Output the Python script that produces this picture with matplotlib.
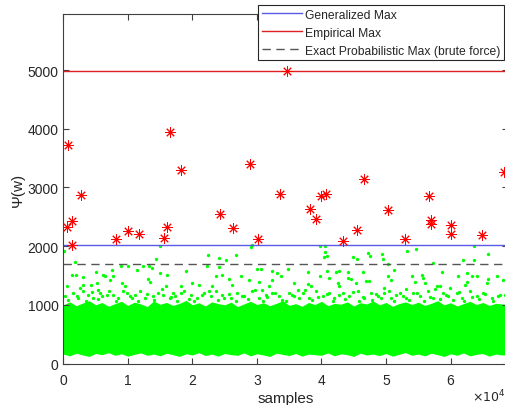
import matplotlib
matplotlib.use("Agg")
import matplotlib.pyplot as plt
from matplotlib.ticker import FuncFormatter

plt.rcParams['font.family'] = ['Liberation Sans', 'DejaVu Sans']

# reference levels
generalized_max = 2020
empirical_max = 4990
exact_max = 1690

# per-run maxima (red asterisks)
star_x = [500, 800, 1300, 1300, 2700, 8200, 10100, 11700, 15600, 16100, 16600,
          18200, 24300, 26300, 28900, 30200, 33600, 34600, 38200, 39200, 40000,
          40700, 43400, 45500, 46600, 50300, 52900, 56600, 56900, 56900, 60000,
          60000, 64900, 68300]
star_y = [2320, 3722, 2433, 2019, 2871, 2121, 2262, 2201, 2143, 2325, 3939,
          3302, 2547, 2303, 3399, 2121, 2888, 4985, 2627, 2456, 2848,
          2888, 2092, 2274, 3138, 2620, 2121, 2859, 2445, 2376, 2359,
          2201, 2189, 3267]

# isolated samples above the dense band
out_x = [109, 15004, 1815, 1919, 1298, 3005, 3108, 4298, 5177, 5074, 6212,
         6470, 7507, 7763, 8953, 10091, 11384, 12418, 13349, 13711, 14383,
         15004, 13194, 13452, 16038, 15935, 9573, 522, 2591, 5436, 7246, 9056,
         29020, 29279, 22452, 24107, 25141, 26693, 22297, 24107, 30055, 30572,
         32382, 33158, 33675, 18935, 23590, 24624, 25658, 27469, 26176, 28762,
         30313, 32382, 31865, 19969, 21004, 18159, 23072, 30830,
         39830, 40554, 40554, 40450, 40864, 44847, 45519, 47174, 47588, 49398,
         49501, 50277, 34761, 37968, 39830, 40864, 41226, 42261, 42778, 44071,
         44071, 44588, 46398, 45364, 46915, 47433, 51312, 50277, 50794, 35692,
         37864, 38382, 42519, 42778, 36313, 49760,
         53277, 54622, 63621, 61966, 63621, 65845, 57208, 53949, 55501, 55656,
         54467, 56018, 58604, 61190, 62483, 63259, 64035, 67138, 68172, 65586,
         65845, 57828, 58345, 62224, 62483, 53174, 59897]
out_y = [1911, 2010, 1723, 1513, 1513, 1474, 1343, 1343, 1371, 1553, 1513,
         1485, 1598, 1496, 1667, 1667, 1598, 1655, 1667, 1627, 1780,
         1542, 1439, 1383, 1513, 1326, 1326, 1314, 1286, 1258, 1428, 1371,
         1985, 2012, 1854, 1797, 1769, 1854, 1655, 1644, 1610, 1610,
         1570, 1542, 1485, 1570, 1485, 1513, 1439, 1485, 1343, 1428,
         1383, 1428, 1314, 1371, 1343, 1314, 1314, 1258,
         2007, 2007, 1894, 1814, 1826, 1814, 1780, 1882, 1826, 1871,
         1780, 1701, 1610, 1553, 1485, 1570, 1457, 1553, 1570, 1553,
         1457, 1439, 1553, 1371, 1400, 1400, 1598, 1485, 1428, 1371,
         1360, 1314, 1371, 1326, 1258, 1286,
         1911, 1951, 2010, 1769, 1769, 1871, 1712, 1496, 1513, 1457,
         1383, 1371, 1553, 1485, 1542, 1496, 1496, 1485, 1428, 1371,
         1439, 1314, 1326, 1343, 1383, 1269, 1286]

# fringe of samples just above the dense band
fringe_x = [264, 1557, 2333, 3108, 3884, 4660, 5694, 5953, 7005, 7763, 8538,
            9832, 10349, 11125, 11901, 12677, 13970, 14745, 15521, 16556, 17073,
            17383, 18676, 19710, 20745, 21779, 22813, 23624, 24624, 25917, 26952,
            27986, 29279, 30313, 31348, 32382, 33365,
            35020, 35796, 37088, 38123, 39157, 40192, 41226, 42002, 43295, 44329,
            45622, 46657, 47691, 48726, 49760, 50794, 51571,
            52139, 53174, 54208, 55242, 56535, 57311, 58863, 59639, 60932, 61708,
            63000, 64035, 65069, 66362, 67397, 68430,
            700, 2100, 3500, 4400, 5300, 6800, 8100, 9200, 10700, 11600,
            12900, 14100, 15300, 16700, 17600, 18300, 19400, 20300, 21500, 22600,
            23900, 24900, 25600, 26800, 27700, 28600, 29700, 30900, 31600, 32800,
            33900, 34500, 35400, 36500, 37500, 38600, 39500, 40900, 41800, 42700,
            43700, 44900, 45800, 46400, 47800, 48500, 49300, 50400, 51300, 52600,
            53600, 54800, 55900, 56800, 57600, 58400, 59300, 60400, 61300, 62100,
            63300, 64400, 65300, 66600, 67700, 68600]
fringe_y = [1144, 1201, 1116, 1229, 1173, 1116, 1201, 1144, 1229, 1173, 1116,
            1201, 1144, 1173, 1229, 1116, 1144, 1201, 1173, 1116, 1201,
            1144, 1229, 1173, 1116, 1201, 1144, 1229, 1173, 1116, 1201,
            1144, 1229, 1116, 1173, 1201, 1144,
            1201, 1144, 1201, 1116, 1229, 1144, 1201, 1116, 1201, 1144,
            1229, 1116, 1201, 1144, 1201, 1116, 1173,
            1201, 1116, 1201, 1144, 1229, 1116, 1201, 1144, 1201, 1116,
            1229, 1144, 1201, 1116, 1144, 1173,
            1080, 1150, 1060, 1210, 1100, 1170, 1070, 1240, 1120, 1060,
            1180, 1090, 1270, 1130, 1070, 1200, 1100, 1060, 1160, 1230,
            1080, 1120, 1190, 1060, 1150, 1100, 1260, 1070, 1140, 1200,
            1090, 1060, 1170, 1110, 1250, 1080, 1130, 1190, 1070, 1160,
            1100, 1220, 1060, 1140, 1080, 1180, 1110, 1240, 1070, 1150,
            1090, 1200, 1060, 1130, 1270, 1100, 1170, 1080, 1210, 1060,
            1140, 1100, 1190, 1070, 1160, 1120]

# envelope of the dense band of samples
band_x = [0, 1000, 2000, 3000, 4000, 5000, 6000, 7000, 8000, 9000,
          10000, 11000, 12000, 13000, 14000, 15000, 16000, 17000, 18000, 19000,
          20000, 21000, 22000, 23000, 24000, 25000, 26000, 27000, 28000, 29000,
          30000, 31000, 32000, 33000, 34000, 35000, 36000, 37000, 38000, 39000,
          40000, 41000, 42000, 43000, 44000, 45000, 46000, 47000, 48000, 49000,
          50000, 51000, 52000, 53000, 54000, 55000, 56000, 57000, 58000, 59000,
          60000, 61000, 62000, 63000, 64000, 65000, 66000, 67000, 68000, 69000]
band_hi = [1000, 1050, 985, 1030, 1070, 1000, 1040, 975, 1020, 1060,
           990, 1045, 1015, 970, 1065, 1010, 1040, 990, 1025, 1075,
           1000, 1035, 980, 1050, 1020, 1000, 1045, 970, 1015, 1060,
           1005, 1035, 985, 1025, 1070, 990, 1020, 975, 1040, 1005,
           1060, 985, 1025, 1010, 1050, 980, 1035, 1015, 1065, 1000,
           1040, 975, 1020, 1050, 1005, 1045, 990, 1025, 1070, 1000,
           1035, 980, 1020, 1060, 1005, 1040, 990, 1025, 1015, 1000]
band_lo = [160, 130, 175, 145, 120, 170, 150, 185, 140, 165,
           125, 155, 180, 140, 160, 130, 175, 150, 120, 165,
           145, 185, 135, 160, 125, 170, 150, 140, 180, 130,
           165, 145, 120, 175, 155, 135, 170, 125, 160, 150,
           140, 180, 130, 165, 150, 120, 175, 145, 160, 135,
           170, 125, 155, 185, 140, 160, 130, 175, 150, 120,
           165, 140, 180, 130, 155, 170, 125, 160, 145, 150]

fig = plt.figure(figsize=(5.06, 4.06), dpi=100)
ax = fig.add_axes([63.3 / 506, 41.5 / 406, 444.7 / 506, 349.5 / 406])

green = (0, 1, 0)
ax.fill_between(band_x, band_lo, band_hi, color=green, lw=0, zorder=1)
ax.plot(fringe_x, fringe_y, 'o', color=green, ms=2.4, mew=0, zorder=1)
ax.plot(out_x, out_y, 'o', color=green, ms=2.4, mew=0, zorder=1)

ax.plot(star_x, star_y, linestyle='none', marker=(8, 2, 0), color='red',
        ms=7.5, mew=0.7, zorder=3)

ax.axhline(generalized_max, color='#5a5ae6', lw=1.0, label='Generalized Max', zorder=2)
ax.axhline(empirical_max, color='#e02020', lw=1.0, label='Empirical Max', zorder=2)
ax.axhline(exact_max, color='#555555', lw=1.0, ls=(0, (6, 4)),
           label='Exact Probabilistic Max (brute force)', zorder=2)

ax.set_xlim(0, 68900)
ax.set_ylim(0, 5955)
ax.set_xticks([0, 10000, 20000, 30000, 40000, 50000, 60000])
ax.set_yticks([0, 1000, 2000, 3000, 4000, 5000])
ax.xaxis.set_major_formatter(FuncFormatter(lambda v, p: '%d' % round(v / 1e4)))

for s in ax.spines.values():
    s.set_color('#404040')
    s.set_linewidth(0.8)
ax.tick_params(direction='in', length=4, width=0.8, color='#404040',
               labelsize=10, labelcolor='#262626', top=True, right=True)
ax.tick_params(axis='x', pad=7)

ax.set_xlabel('samples', fontsize=11, color='#262626', labelpad=3)
ax.set_ylabel('Ψ(w)', fontsize=11, color='#262626', labelpad=2)
fig.text(472 / 506, 1 / 406, r'$\times10^{4}$', fontsize=9, color='#262626',
         ha='left', va='bottom')

leg = ax.legend(loc='upper left', bbox_to_anchor=(258 / 506, 400 / 406),
                bbox_transform=fig.transFigure, borderaxespad=0, fontsize=8.7,
                fancybox=False, framealpha=1, edgecolor='#262626',
                handlelength=3.3, handletextpad=0.3, labelspacing=0.5,
                borderpad=0.3)
leg.get_frame().set_linewidth(0.8)
for t in leg.get_texts():
    t.set_color('#262626')

fig.savefig('out.png', dpi=100)
